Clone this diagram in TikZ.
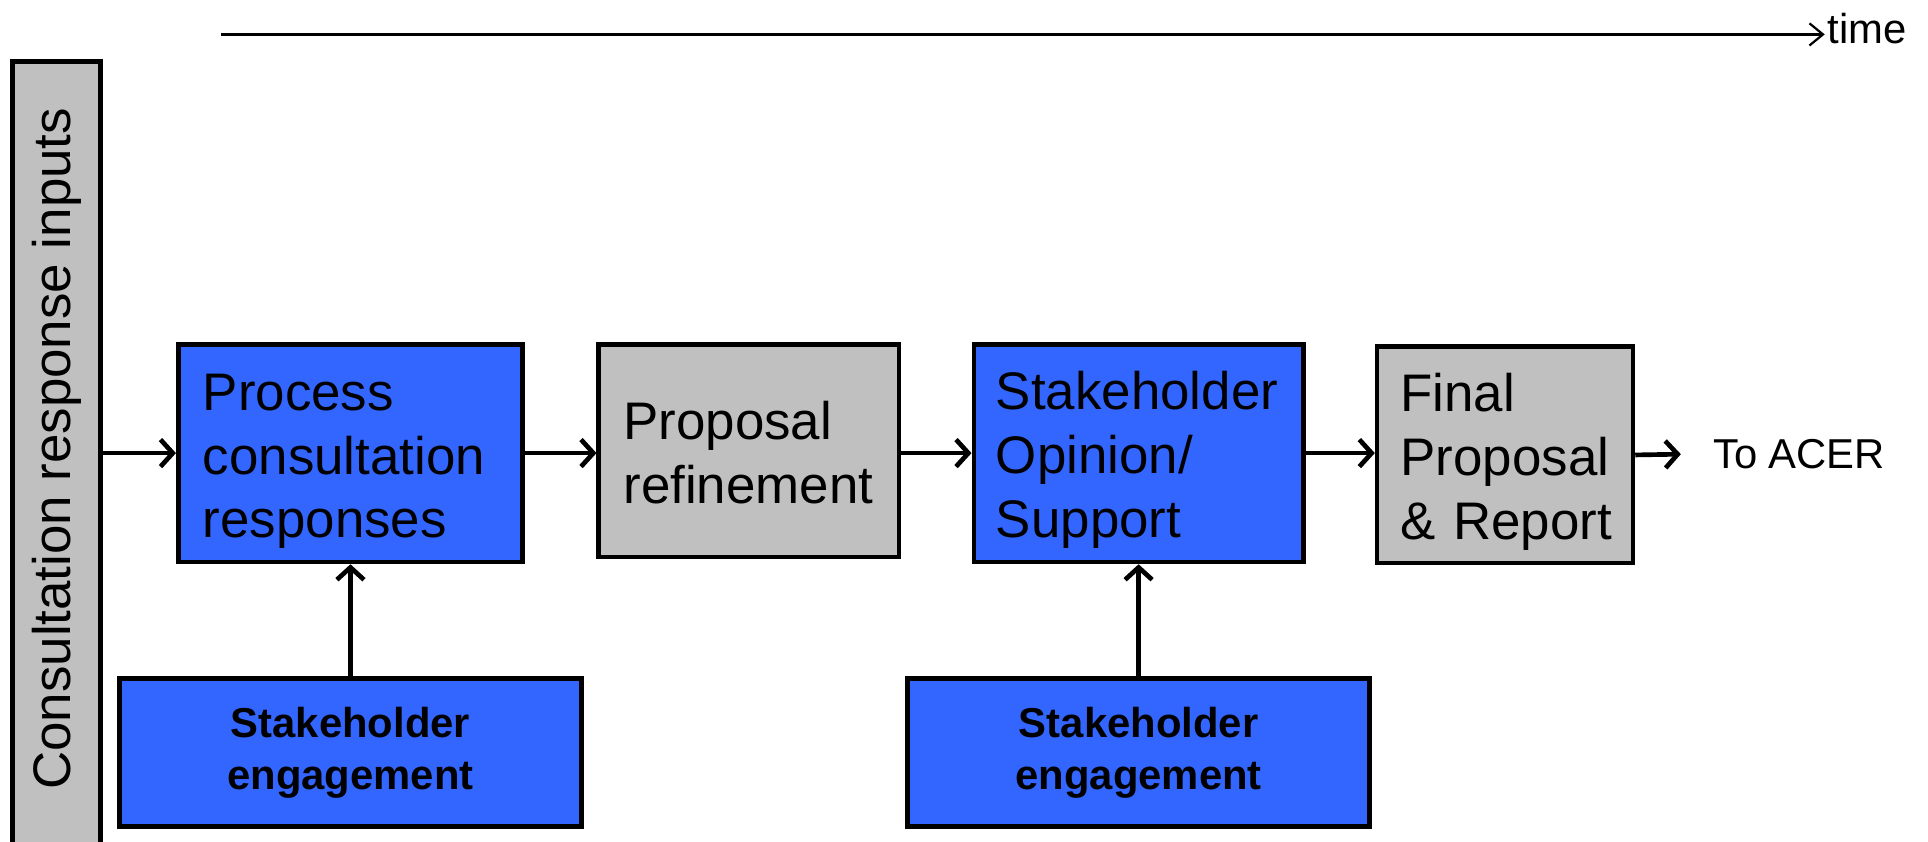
\documentclass[tikz,border=0pt]{standalone}
\usepackage{fontspec}
\setmainfont{Liberation Sans}
\usetikzlibrary{arrows.meta}
\definecolor{boxblue}{RGB}{51,102,255}
\definecolor{boxgray}{RGB}{192,192,192}
\newcommand\myraise[1]{\rule{0pt}{#1}}
\begin{document}
\begin{tikzpicture}[x=1pt,y=-1pt,
  box/.style={draw=black, line width=3.8pt, inner ysep=0pt, align=left, font=\fontsize{43}{52}\selectfont},
  bluebox/.style={box, fill=boxblue},
  graybox/.style={box, fill=boxgray},
  engbox/.style={draw=black, line width=3.8pt, fill=boxblue, minimum width=376pt, minimum height=120pt, align=center, font=\fontsize{34}{42}\selectfont\bfseries},
  flow/.style={line width=3.8pt, -{Straight Barb[length=10pt,width=22pt]}},
  lbl/.style={font=\fontsize{34}{41}\selectfont},
]
\clip (0,0) rectangle (1568,684);
% time axis
\coordinate (t0) at (180,28);
\node[lbl, anchor=base west, inner sep=2pt] (timelbl) at (1484,35) {time};
\draw[line width=1.8pt, -{Straight Barb[length=11pt,width=18pt]}] (t0) -- (t0 -| timelbl.west);
% left bar
\node[draw=black, line width=3.8pt, fill=boxgray, minimum width=72pt, minimum height=640pt, inner sep=0pt] (bar) at (46,370) {};
\node[rotate=90, font=\fontsize{43}{52}\selectfont] (bartext) at (46,365) {Consultation response inputs};
% main boxes
\node[bluebox, minimum width=280pt, minimum height=177pt, text width=240pt, inner xsep=20pt] (proc) at (285,368.5) {\myraise{43pt}Process\\consultation\\responses};
\node[graybox, minimum width=244pt, minimum height=173pt, text width=204pt, inner xsep=20pt] (prop) at (609,366.5) {\myraise{35pt}Proposal\\refinement};
\node[bluebox, minimum width=268pt, minimum height=177pt, text width=232pt, inner xsep=18pt] (stake) at (926,368.5) {\myraise{42pt}Stakeholder\\Opinion/\\Support};
\node[graybox, minimum width=208pt, minimum height=176pt, text width=170pt, inner xsep=19pt] (final) at (1224,370) {\myraise{42pt}Final\\Proposal\\\mbox{\& Report}};
\node[lbl, anchor=west, inner sep=3pt] (acer) at (1390,369) {To ACER};
% engagement boxes
\node[engbox] (eng1) at (285,612) {Stakeholder\\engagement};
\node[engbox] (eng2) at (926,612) {Stakeholder\\engagement};
% connectors
\draw[flow] (bar.east |- proc.west) -- (proc.west);
\draw[flow] (proc.east) -- (prop.west |- proc.east);
\draw[flow] (prop.east |- stake.west) -- (stake.west);
\draw[flow] (stake.east) -- (final.west |- stake.east);
\draw[flow, shorten >=23pt] (final.east) -- (acer.west);
\draw[flow] (eng1.north) -- (proc.south);
\draw[flow] (eng2.north) -- (stake.south);
\end{tikzpicture}
\end{document}
